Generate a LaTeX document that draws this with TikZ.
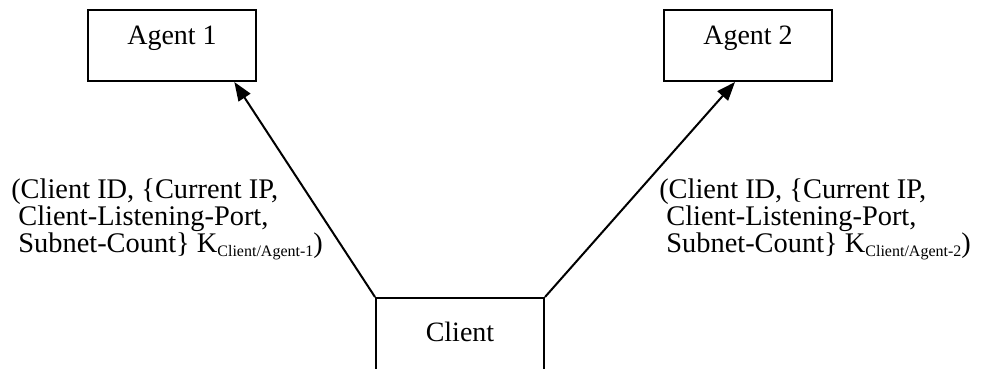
\documentclass[tikz,border=0pt]{standalone}
\usepackage{fontspec}
\setmainfont{Liberation Serif}
\usetikzlibrary{arrows.meta,positioning}
\newcommand{\ksub}[1]{\raisebox{-3pt}{\fontsize{12}{12}\selectfont #1}}

\begin{document}
\begin{tikzpicture}
		[x=0.75pt,y=-0.75pt,on grid,
		box/.style={draw,line width=1.5pt,minimum width=126pt,minimum height=53.25pt,inner sep=0pt,text depth=15.7pt,font=\fontsize{21}{24}\selectfont},
		msg/.style={align=left,inner sep=0pt,font=\fontsize{21.3}{18.75}\selectfont}]
		\useasboundingbox (0,0) rectangle (984,368);
		\node[box] (agent1) at (172,45.5) {Agent 1};
		\node[box] (agent2) [right=432pt of agent1] {Agent 2};
		\node[box,minimum height=60pt,text depth=9pt,yshift=-3.375pt] (client) [below right=216pt and 216pt of agent1] {Client};
		\path[-{Triangle[length=14pt,width=10.5pt]},line width=1.5pt]
		(client.north west) edge ([xshift=-17pt]agent1.south east)
		(client.north east) edge ([xshift=-9.75pt]agent2.south)
		;
		\node[msg,anchor=north west] (msg1) at (11,178.5) {(Client ID, \{Current IP,\\\hspace*{0.25em}Client-Listening-Port,\\\hspace*{0.25em}Subnet-Count\} K\ksub{Client/Agent-1})};
		\node[msg,anchor=north west] (msg2) at (659,178.5) {(Client ID, \{Current IP,\\\hspace*{0.25em}Client-Listening-Port,\\\hspace*{0.25em}Subnet-Count\} K\ksub{Client/Agent-2})};
		\end{tikzpicture}
\end{document}
